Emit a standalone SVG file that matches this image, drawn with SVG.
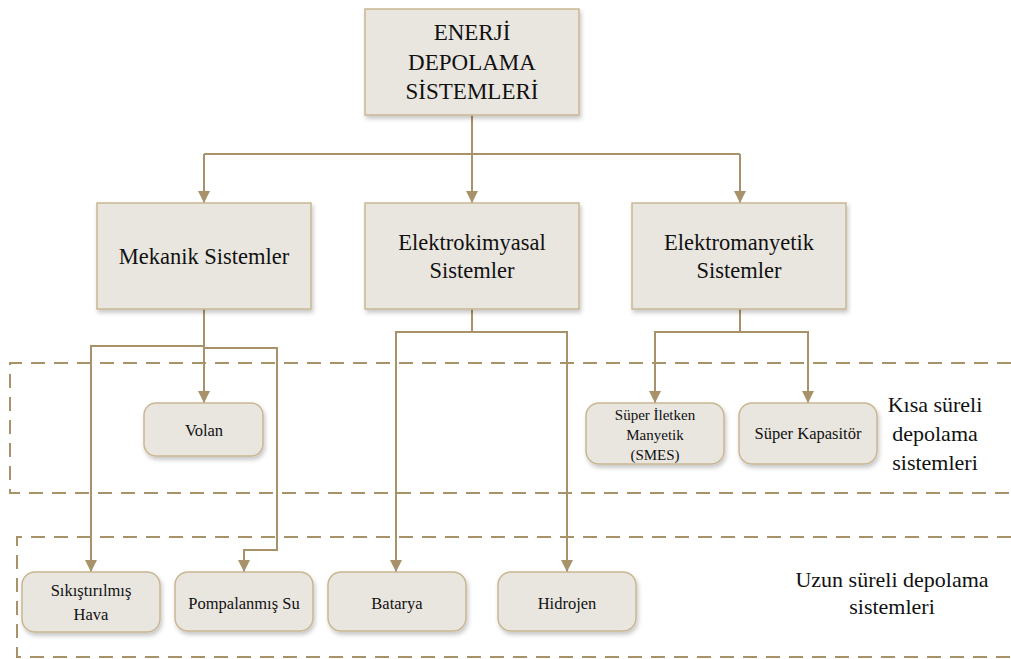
<svg xmlns="http://www.w3.org/2000/svg" width="1011" height="659" viewBox="0 0 1011 659">
  <defs>
    <style>
      .box { fill: #E9E6E0; stroke: #C9B792; stroke-width: 1.5; filter: url(#shadow); }
      .conn { fill: none; stroke: #A8926A; stroke-width: 2; }
      .zone { fill: none; stroke: #A8926A; stroke-width: 2; stroke-dasharray: 14 9; }
      text { font-family: "Liberation Serif", "Times New Roman", serif; fill: #111; text-anchor: middle; }
      .big { font-size: 22.5px; }
      .top { font-size: 23px; }
      .small { font-size: 16.5px; }
      .tiny { font-size: 15px; }
      .note { font-size: 22px; }
    </style>
    <filter id="shadow" x="-10%" y="-10%" width="125%" height="130%">
      <feDropShadow dx="1.5" dy="3" stdDeviation="2" flood-color="#000" flood-opacity="0.22"/>
    </filter>
    <marker id="down" viewBox="0 0 12 12" refX="6" refY="12" markerWidth="12" markerHeight="12" markerUnits="userSpaceOnUse" orient="0">
      <path d="M0,0 L12,0 L6,12 Z" fill="#A8926A"/>
    </marker>
  </defs>

  <!-- storage duration zones -->
  <g id="zones">
    <path class="zone" d="M1011,363 H10 V493 H1011"/>
    <path class="zone" d="M1011,537 H17 V657 H1011"/>
  </g>

  <!-- connectors -->
  <g id="connectors">
    <path class="conn" d="M472,115 V203" marker-end="url(#down)"/>
    <path class="conn" d="M204,154 H740"/>
    <path class="conn" d="M204,154 V203" marker-end="url(#down)"/>
    <path class="conn" d="M740,154 V203" marker-end="url(#down)"/>

    <path class="conn" d="M204,309 V403" marker-end="url(#down)"/>
    <path class="conn" d="M204,346 H91 V572" marker-end="url(#down)"/>
    <path class="conn" d="M204,348 H277 V550 H244 V572" marker-end="url(#down)"/>

    <path class="conn" d="M472,309 V332"/>
    <path class="conn" d="M472,332 H396 V572" marker-end="url(#down)"/>
    <path class="conn" d="M472,332 H567 V572" marker-end="url(#down)"/>

    <path class="conn" d="M740,309 V332"/>
    <path class="conn" d="M740,332 H655 V403" marker-end="url(#down)"/>
    <path class="conn" d="M740,332 H808 V403" marker-end="url(#down)"/>
  </g>

  <g id="root">
    <rect class="box" x="365" y="9" width="214" height="106"/>
    <text class="top" x="472" y="40">ENERJİ</text>
    <text class="top" x="472" y="70">DEPOLAMA</text>
    <text class="top" x="472" y="99">SİSTEMLERİ</text>
  </g>

  <g id="mekanik">
    <rect class="box" x="97" y="203" width="214" height="106"/>
    <text class="big" x="204" y="264">Mekanik Sistemler</text>
  </g>

  <g id="elektrokimyasal">
    <rect class="box" x="365" y="203" width="214" height="106"/>
    <text class="big" x="472" y="250">Elektrokimyasal</text>
    <text class="big" x="472" y="278">Sistemler</text>
  </g>

  <g id="elektromanyetik">
    <rect class="box" x="632" y="203" width="214" height="106"/>
    <text class="big" x="739" y="250">Elektromanyetik</text>
    <text class="big" x="739" y="278">Sistemler</text>
  </g>

  <g id="volan">
    <rect class="box" x="144" y="403" width="119" height="53" rx="12"/>
    <text class="small" x="204" y="436">Volan</text>
  </g>

  <g id="smes">
    <rect class="box" x="586" y="403" width="138" height="61" rx="13"/>
    <text class="tiny" x="655" y="420">Süper İletken</text>
    <text class="tiny" x="655" y="440">Manyetik</text>
    <text class="tiny" x="655" y="460">(SMES)</text>
  </g>

  <g id="kapasitor">
    <rect class="box" x="739" y="403" width="138" height="61" rx="13"/>
    <text class="small" x="808" y="439">Süper Kapasitör</text>
  </g>

  <g id="hava">
    <rect class="box" x="22" y="572" width="138" height="60" rx="13"/>
    <text class="small" x="91" y="596">Sıkıştırılmış</text>
    <text class="small" x="91" y="620">Hava</text>
  </g>

  <g id="pompaj">
    <rect class="box" x="175" y="572" width="138" height="59" rx="13"/>
    <text class="small" x="244" y="609">Pompalanmış Su</text>
  </g>

  <g id="batarya">
    <rect class="box" x="328" y="572" width="138" height="59" rx="13"/>
    <text class="small" x="397" y="609">Batarya</text>
  </g>

  <g id="hidrojen">
    <rect class="box" x="498" y="572" width="138" height="59" rx="13"/>
    <text class="small" x="567" y="609">Hidrojen</text>
  </g>

  <g id="labels">
    <text class="note" x="935" y="412">Kısa süreli</text>
    <text class="note" x="935" y="441">depolama</text>
    <text class="note" x="935" y="470">sistemleri</text>
    <text class="note" x="892" y="587">Uzun süreli depolama</text>
    <text class="note" x="892" y="614">sistemleri</text>
  </g>
</svg>
